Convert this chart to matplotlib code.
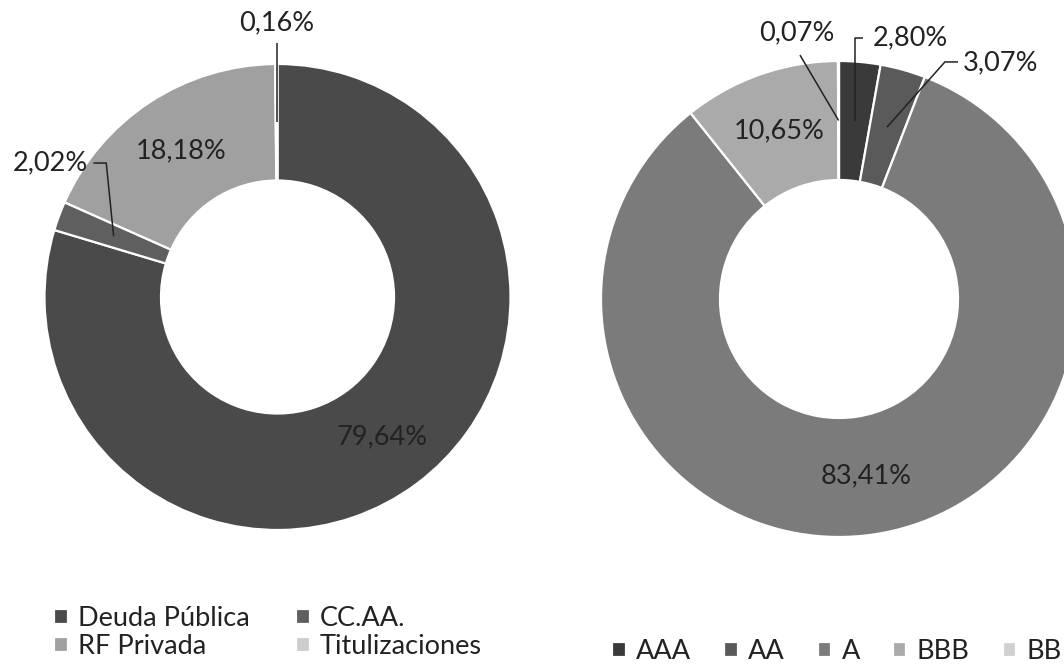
import matplotlib.pyplot as plt
import numpy as np

plt.rcParams['font.family'] = ['Lato', 'DejaVu Sans']

# Left donut: type of fixed income
tipo_labels = ['Deuda Pública', 'CC.AA.', 'RF Privada', 'Titulizaciones']
tipo_values = [79.64, 2.02, 18.18, 0.16]
tipo_colors = ['#4a4a4a', '#5f5f5f', '#a0a0a0', '#cdcdcd']

# Right donut: rating
rating_labels = ['AAA', 'AA', 'A', 'BBB', 'BB']
rating_values = [2.80, 3.07, 83.41, 10.65, 0.07]
rating_colors = ['#3a3a3a', '#5a5a5a', '#7b7b7b', '#aaaaaa', '#d0d0d0']

W, H = 1064, 666
TXT = '#222222'
FS = 19.5
LFS = 19.5


def fmt(v):
    return f'{v:.2f}%'.replace('.', ',')


def donut(cx, cy, r, values, colors):
    # axes placed in pixel terms so the ring sits where it does in the scan
    ax = fig.add_axes([(cx - r) / W, (H - cy - r) / H, 2 * r / W, 2 * r / H])
    wedges, _ = ax.pie(values, colors=colors, startangle=90, counterclock=False,
                       radius=1, wedgeprops=dict(width=0.5, edgecolor='white', linewidth=1.6))
    ax.set_xlim(-1, 1)
    ax.set_ylim(-1, 1)
    ax.set_aspect('equal')
    ax.axis('off')
    return ax, wedges


def mid_point(w, d=0.75):
    ang = np.deg2rad((w.theta1 + w.theta2) / 2)
    return d * np.cos(ang), d * np.sin(ang)


def leader(ax, pts):
    xs, ys = zip(*pts)
    ax.plot(xs, ys, color=TXT, lw=1.1, clip_on=False, solid_capstyle='butt')


fig = plt.figure(figsize=(W / 100, H / 100), dpi=100)

# ---- left donut
axl, wl = donut(277.5, 297, 233, tipo_values, tipo_colors)
for i in (0, 2):
    x, y = mid_point(wl[i])
    axl.text(x, y, fmt(tipo_values[i]), ha='center', va='center', fontsize=FS, color=TXT)

# CC.AA. label on the left
x, y = mid_point(wl[1])
leader(axl, [(-0.79, 0.575), (-0.735, 0.575), (x, y)])
axl.text(-0.815, 0.575, fmt(tipo_values[1]), ha='right', va='center', fontsize=FS, color=TXT)

# Titulizaciones label on top
x, y = mid_point(wl[3])
leader(axl, [(x, 1.09), (x, y)])
axl.text(x, 1.175, fmt(tipo_values[3]), ha='center', va='center', fontsize=FS, color=TXT)

# ---- right donut
axr, wr = donut(839, 299, 238, rating_values, rating_colors)
for i in (2, 3):
    x, y = mid_point(wr[i])
    axr.text(x, y, fmt(rating_values[i]), ha='center', va='center', fontsize=FS, color=TXT)

x, y = mid_point(wr[0])
leader(axr, [(0.101, 1.097), (x, 1.097), (x, y)])
axr.text(0.143, 1.097, fmt(rating_values[0]), ha='left', va='center', fontsize=FS, color=TXT)

x, y = mid_point(wr[1])
leader(axr, [(0.50, 0.996), (0.445, 0.996), (x, y)])
axr.text(0.521, 0.992, fmt(rating_values[1]), ha='left', va='center', fontsize=FS, color=TXT)

x, y = mid_point(wr[4])
leader(axr, [(-0.164, 1.025), (x, y)])
axr.text(-0.176, 1.118, fmt(rating_values[4]), ha='center', va='center', fontsize=FS, color=TXT)

# ---- legends
order = [0, 2, 1, 3]
fig.legend([wl[i] for i in order], [tipo_labels[i] for i in order],
           loc='upper left', bbox_to_anchor=(54 / W, 1 - 606 / H), ncol=2,
           frameon=False, fontsize=LFS, handlelength=0.5, handleheight=0.5,
           handletextpad=0.38, columnspacing=1.72, labelspacing=0.12,
           borderpad=0, borderaxespad=0, labelcolor=TXT)

fig.legend(wr, rating_labels, loc='upper left', bbox_to_anchor=(612 / W, 1 - 639 / H),
           ncol=5, frameon=False, fontsize=LFS, handlelength=0.5, handleheight=0.5,
           handletextpad=0.38, columnspacing=1.22, borderpad=0, borderaxespad=0,
           labelcolor=TXT)

fig.savefig('out.png', dpi=100)
